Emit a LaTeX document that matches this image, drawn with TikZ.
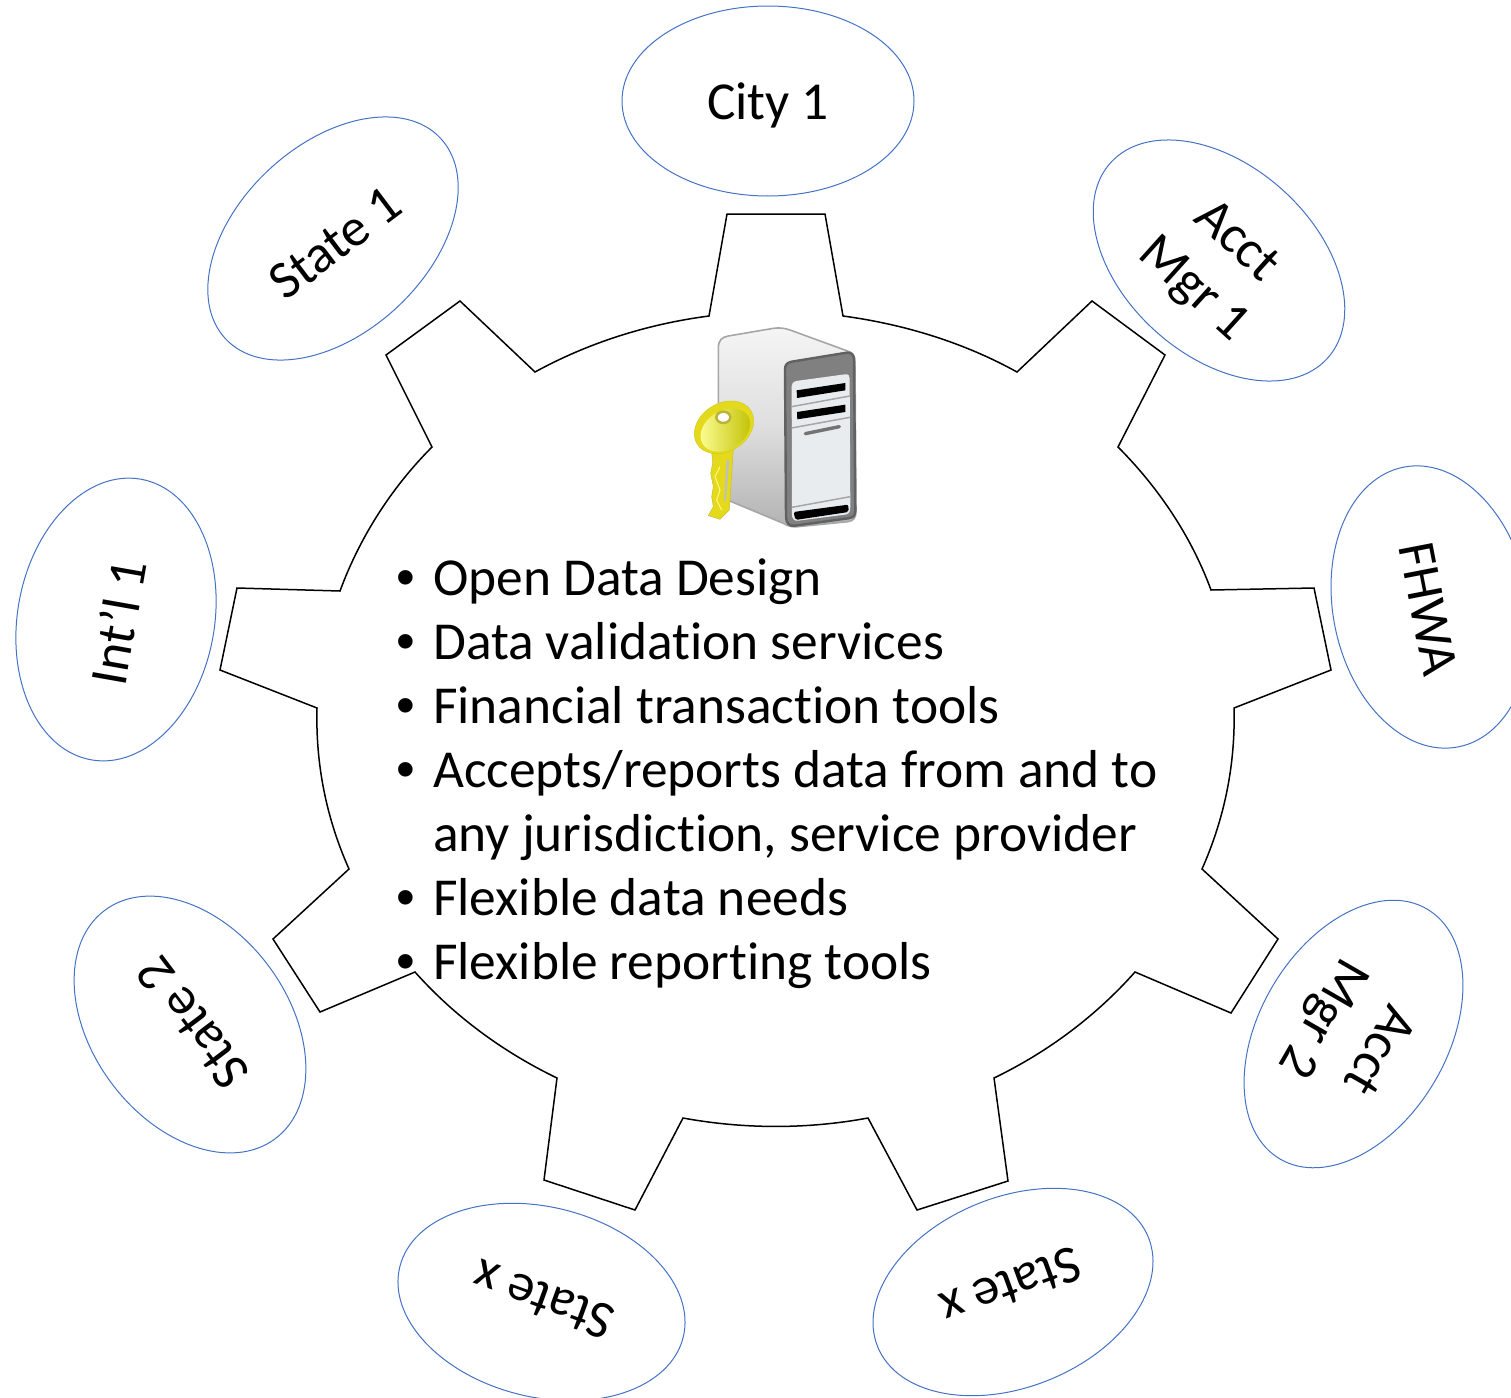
\documentclass[tikz,border=0pt]{standalone}
\usepackage{fontspec}
\setmainfont[Ligatures=NoCommon]{Carlito}
\newfontfamily\bulletfont{Liberation Sans}
\usetikzlibrary{shapes.geometric}
\definecolor{ellblue}{HTML}{4472C4}
\definecolor{panelgrey}{HTML}{E9ECEF}
\tikzset{
  org/.style={ellipse,draw=ellblue,line width=1pt,inner sep=0pt,minimum width=292pt,minimum height=190pt},
  orgsize/.style n args={2}{minimum width=#1,minimum height=#2},
  orglabel/.style={align=center,font=\fontsize{53.4}{64}\selectfont,inner sep=0pt},
  bullettext/.style={anchor=base west,inner sep=0pt,font=\fontsize{53.4}{64}\selectfont},
  bulletmark/.style={anchor=base west,inner sep=0pt,font=\bulletfont\fontsize{53.4}{64}\selectfont},
  gearline/.style={draw=black,line width=1.5pt,line join=miter}
}
\begin{document}
\begin{tikzpicture}[x=1pt,y=-1pt]
\useasboundingbox (0,0) rectangle (1511,1397);
\begin{scope}
\clip (0,0) rectangle (1511,1397);
% gear
\draw[gearline] (709,316) -- (727,214) -- (825,214) -- (843,316)
 .. controls (904.6,324.3) and (964.1,342.7) .. (1017,372) -- (1092,301) -- (1165,355) -- (1118,447)
 .. controls (1159.4,488.5) and (1191.6,537.3) .. (1211,590) -- (1314,588) -- (1331,670) -- (1234,708)
 .. controls (1235.5,763.5) and (1224.9,817.4) .. (1202,869) -- (1278,939) -- (1231,1013) -- (1135,972)
 .. controls (1096.3,1015.5) and (1048.8,1051.5) .. (994,1078) -- (1008,1181) -- (917,1210) -- (868,1118)
 .. controls (807,1129.3) and (744,1129.2) .. (683,1118) -- (635,1210) -- (544,1180) -- (557,1078)
 .. controls (502.2,1051.6) and (453.7,1015.5) .. (415,972) -- (320,1012) -- (273,939) -- (349,869)
 .. controls (326,817.4) and (315.5,763.5) .. (317,708) -- (220,670) -- (237,588) -- (340,591)
 .. controls (359.4,538.3) and (390.6,488.5) .. (432,447) -- (386,355) -- (460,301) -- (535,372)
 .. controls (588,342.9) and (647.4,324) .. (709,316) -- cycle;
% ellipses
\node[org] (city) at (768,101) {};
\node[org,orgsize={294pt}{188pt},rotate=43] (state1) at (333,238.5) {};
\node[org,rotate=-42] (acct1) at (1219,260.5) {};
\node[org,orgsize={285pt}{196pt},rotate=-79] (fhwa) at (1431,607) {};
\node[org,orgsize={285pt}{197pt},rotate=80] (intl) at (116,619.5) {};
\node[org,orgsize={285pt}{196pt},rotate=-53.3] (state2) at (190,1024.5) {};
\node[org,orgsize={290pt}{188pt},rotate=59.5] (acct2) at (1353.5,1034) {};
\node[org,rotate=22] (statexr) at (1013,1292) {};
\node[org,rotate=-14] (statexl) at (541.5,1302) {};
% labels
\node[orglabel] (lcity) at (768,105) {City 1};
\node[orglabel,rotate=37] (lstate1) at (335,243) {State 1};
\node[orglabel,rotate=-42] (lacct1) at (1214,266) {Acct\\Mgr 1};
\node[orglabel,rotate=-79] (lfhwa) at (1428,609) {FHWA};
\node[orglabel,rotate=80] (lintl) at (118,622) {Int’l 1};
\node[orglabel,rotate=127] (lstate2) at (192.5,1022.5) {State 2};
\node[orglabel,rotate=240] (lacct2) at (1349,1033) {Acct\\Mgr 2};
\node[orglabel,rotate=200] (lxr) at (1011,1287) {State x};
\node[orglabel,rotate=160] (lxl) at (543,1300) {State x};
% list
\foreach \n/\yy/\txt in {a/595/{Open Data Design},b/659/{Data validation services},c/723/{Financial transaction tools},d/787/{Accepts/reports data from and to},f/915/{Flexible data needs},g/979/{Flexible reporting tools}}{
  \node[bulletmark] (bul\n) at (396,\yy) {•};
  \node[bullettext] (item\n) at (433,\yy) {\txt};
}
\node[bullettext] (iteme) at (433,851) {any jurisdiction, service provider};
% server icon
\begin{scope}[shift={(670,310)},x=0.3333pt,y=-0.3333pt]
 \path[draw=black!35,line width=1.6pt,top color=black!4,bottom color=black!30,middle color=black!13]
   (145,115) .. controls (145,90) and (155,82) .. (175,78) -- (310,55) .. controls (330,52) and (345,55) .. (360,60)
   -- (530,122) .. controls (548,128) and (555,135) .. (555,155) -- (558,605) .. controls (558,625) and (550,632) .. (535,635)
   -- (385,650) .. controls (370,652) and (355,650) .. (340,640) -- (160,565) .. controls (150,560) and (145,550) .. (145,540) -- cycle;
 \path[draw=black!62,line width=2.4pt,fill=black!50]
   (345,180) .. controls (345,165) and (350,158) .. (365,155) -- (530,128) .. controls (545,126) and (552,135) .. (552,150)
   -- (556,600) .. controls (556,618) and (550,622) .. (535,625) -- (375,647) .. controls (358,650) and (348,640) .. (348,620) -- cycle;
 \path[fill=panelgrey] (365,228) .. controls (365,220) and (370,215) .. (378,213) -- (525,193) .. controls (535,192) and (539,196) .. (539,205)
   -- (541,590) .. controls (541,610) and (535,612) .. (525,614) -- (385,632) .. controls (372,634) and (366,625) .. (366,615) -- cycle;
 \fill[black] (380,241) -- (526,219) -- (526,241) -- (381,264) -- cycle;
 \fill[black] (381,306) -- (526,284) -- (526,306) -- (382,328) -- cycle;
 \draw[black!35,line width=1.5pt] (365,290) -- (540,258);
 \draw[black!35,line width=1.5pt] (365,354) -- (540,322);
 \draw[black!55,line width=3.4pt,line cap=round] (406,371) -- (508,350);
 \draw[black!35,line width=1.5pt] (366,592) -- (541,560);
 \path[fill=black,rounded corners=2pt] (371,606) -- (535,584) -- (536,606) -- (376,630) -- cycle;
 % key
 \path[fill=yellow!88!black,draw=yellow!75!black,line width=0.5pt]
   (125,425) -- (190,415) -- (188,445) -- (178,600) -- (150,628) -- (115,617) -- (130,590) -- (125,560) -- (130,530) -- (122,490) -- (128,460) -- cycle;
 \draw[yellow!50!white,line width=1pt] (150,470) -- (135,500) -- (150,540) -- (140,570) -- (155,600);
 \path[fill=black!25] (170,450) -- (178,450) -- (168,570) -- (162,575) -- cycle;
 \path[fill=yellow!88!black,draw=yellow!80!black,line width=0.5pt,rotate around={32:(162,352)}] (162,352) ellipse [x radius=95,y radius=72];
 \path[left color=yellow!40!white,right color=yellow!75!black,rotate around={32:(166,360)}] (166,360) ellipse [x radius=80,y radius=58];
 \path[fill=white,draw=yellow!70!black,line width=2.5pt] (160,322) ellipse [x radius=21,y radius=17];
\end{scope}
\end{scope}
\end{tikzpicture}
\end{document}
